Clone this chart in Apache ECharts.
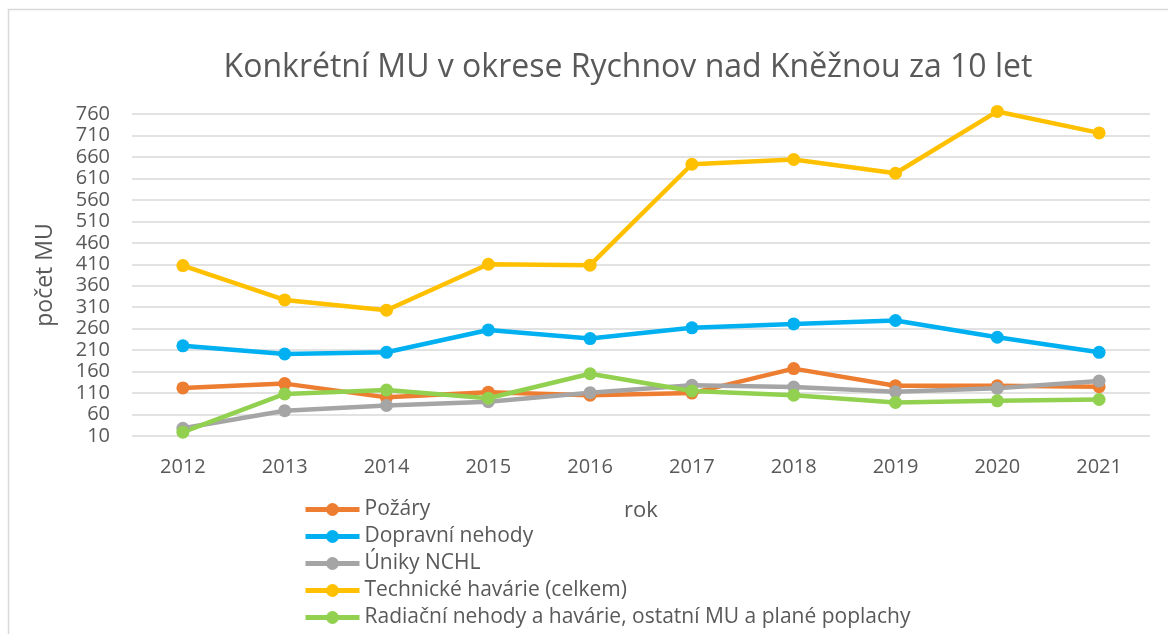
<!DOCTYPE html>
<html>
<head>
<meta charset="utf-8">
<script src="https://cdn.jsdelivr.net/npm/echarts@6/dist/echarts.min.js"></script>
<style>
html, body { margin: 0; padding: 0; background: #fff; overflow: hidden; }
#chart { width: 1168px; height: 634px; }
</style>
</head>
<body>
<div id="chart"></div>
<script>
// data
var years = ['2012', '2013', '2014', '2015', '2016', '2017', '2018', '2019', '2020', '2021'];
var pozary = [122, 132, 100, 112, 105, 110, 167, 127, 127, 125];
var dopravni = [220, 201, 205, 257, 237, 262, 271, 279, 240, 205];
var uniky = [28, 69, 81, 90, 111, 128, 124, 113, 121, 138];
var technicke = [407, 327, 303, 410, 408, 643, 654, 622, 766, 716];
var radiacni = [19, 108, 117, 98, 155, 115, 105, 88, 92, 95];

var names = ['Požáry', 'Dopravní nehody', 'Úniky NCHL', 'Technické havárie (celkem)',
    'Radiační nehody a havárie, ostatní MU a plané poplachy'];
var colors = ['#ED7D31', '#00B0F0', '#A5A5A5', '#FFC000', '#92D050'];
var values = [pozary, dopravni, uniky, technicke, radiacni];

var font = '"Open Sans", sans-serif';
var textColor = '#595959';

var chart = echarts.init(document.getElementById('chart'));

var series = values.map(function (d, i) {
    return {
        name: names[i],
        type: 'line',
        data: d,
        symbol: 'circle',
        symbolSize: 13,
        clip: false,
        itemStyle: { color: colors[i] },
        lineStyle: { color: colors[i], width: 4.5 }
    };
});

var option = {
    animation: false,
    backgroundColor: '#fff',
    textStyle: { fontFamily: font },
    graphic: [{
        type: 'rect',
        shape: { x: 8.5, y: 9.5, width: 1300, height: 800 },
        style: { fill: 'none', stroke: '#D9D9D9', lineWidth: 1.5 },
        silent: true
    }],
    title: {
        text: 'Konkrétní MU v okrese Rychnov nad Kněžnou za 10 let',
        left: 623,
        top: 47,
        textAlign: 'center',
        textStyle: { fontFamily: font, fontSize: 32, fontWeight: 'normal', color: textColor }
    },
    grid: { left: 132, right: 18, top: 114, bottom: 198 },
    legend: {
        orient: 'vertical',
        left: 303,
        top: 499,
        height: 140,
        padding: 0,
        itemGap: 6,
        itemWidth: 54,
        itemHeight: 16,
        data: names,
        lineStyle: { width: 5 },
        textStyle: { fontFamily: font, fontSize: 21, color: textColor }
    },
    xAxis: {
        type: 'category',
        data: years,
        name: 'rok',
        nameLocation: 'middle',
        nameGap: 64,
        nameTextStyle: { fontFamily: font, fontSize: 22, color: textColor },
        axisLine: { show: false },
        axisTick: { show: false },
        axisLabel: { fontFamily: font, fontSize: 20, color: textColor, margin: 21 }
    },
    yAxis: {
        type: 'value',
        min: 10,
        max: 760,
        interval: 50,
        name: 'počet MU',
        nameLocation: 'middle',
        nameGap: 75,
        nameRotate: 90,
        nameTextStyle: { fontFamily: font, fontSize: 23, color: textColor },
        axisLine: { show: false },
        axisTick: { show: false },
        axisLabel: { fontFamily: font, fontSize: 20, color: textColor, margin: 22 },
        splitLine: { lineStyle: { color: '#D9D9D9', width: 1.5 } }
    },
    series: series
};

chart.setOption(option);
</script>
</body>
</html>
